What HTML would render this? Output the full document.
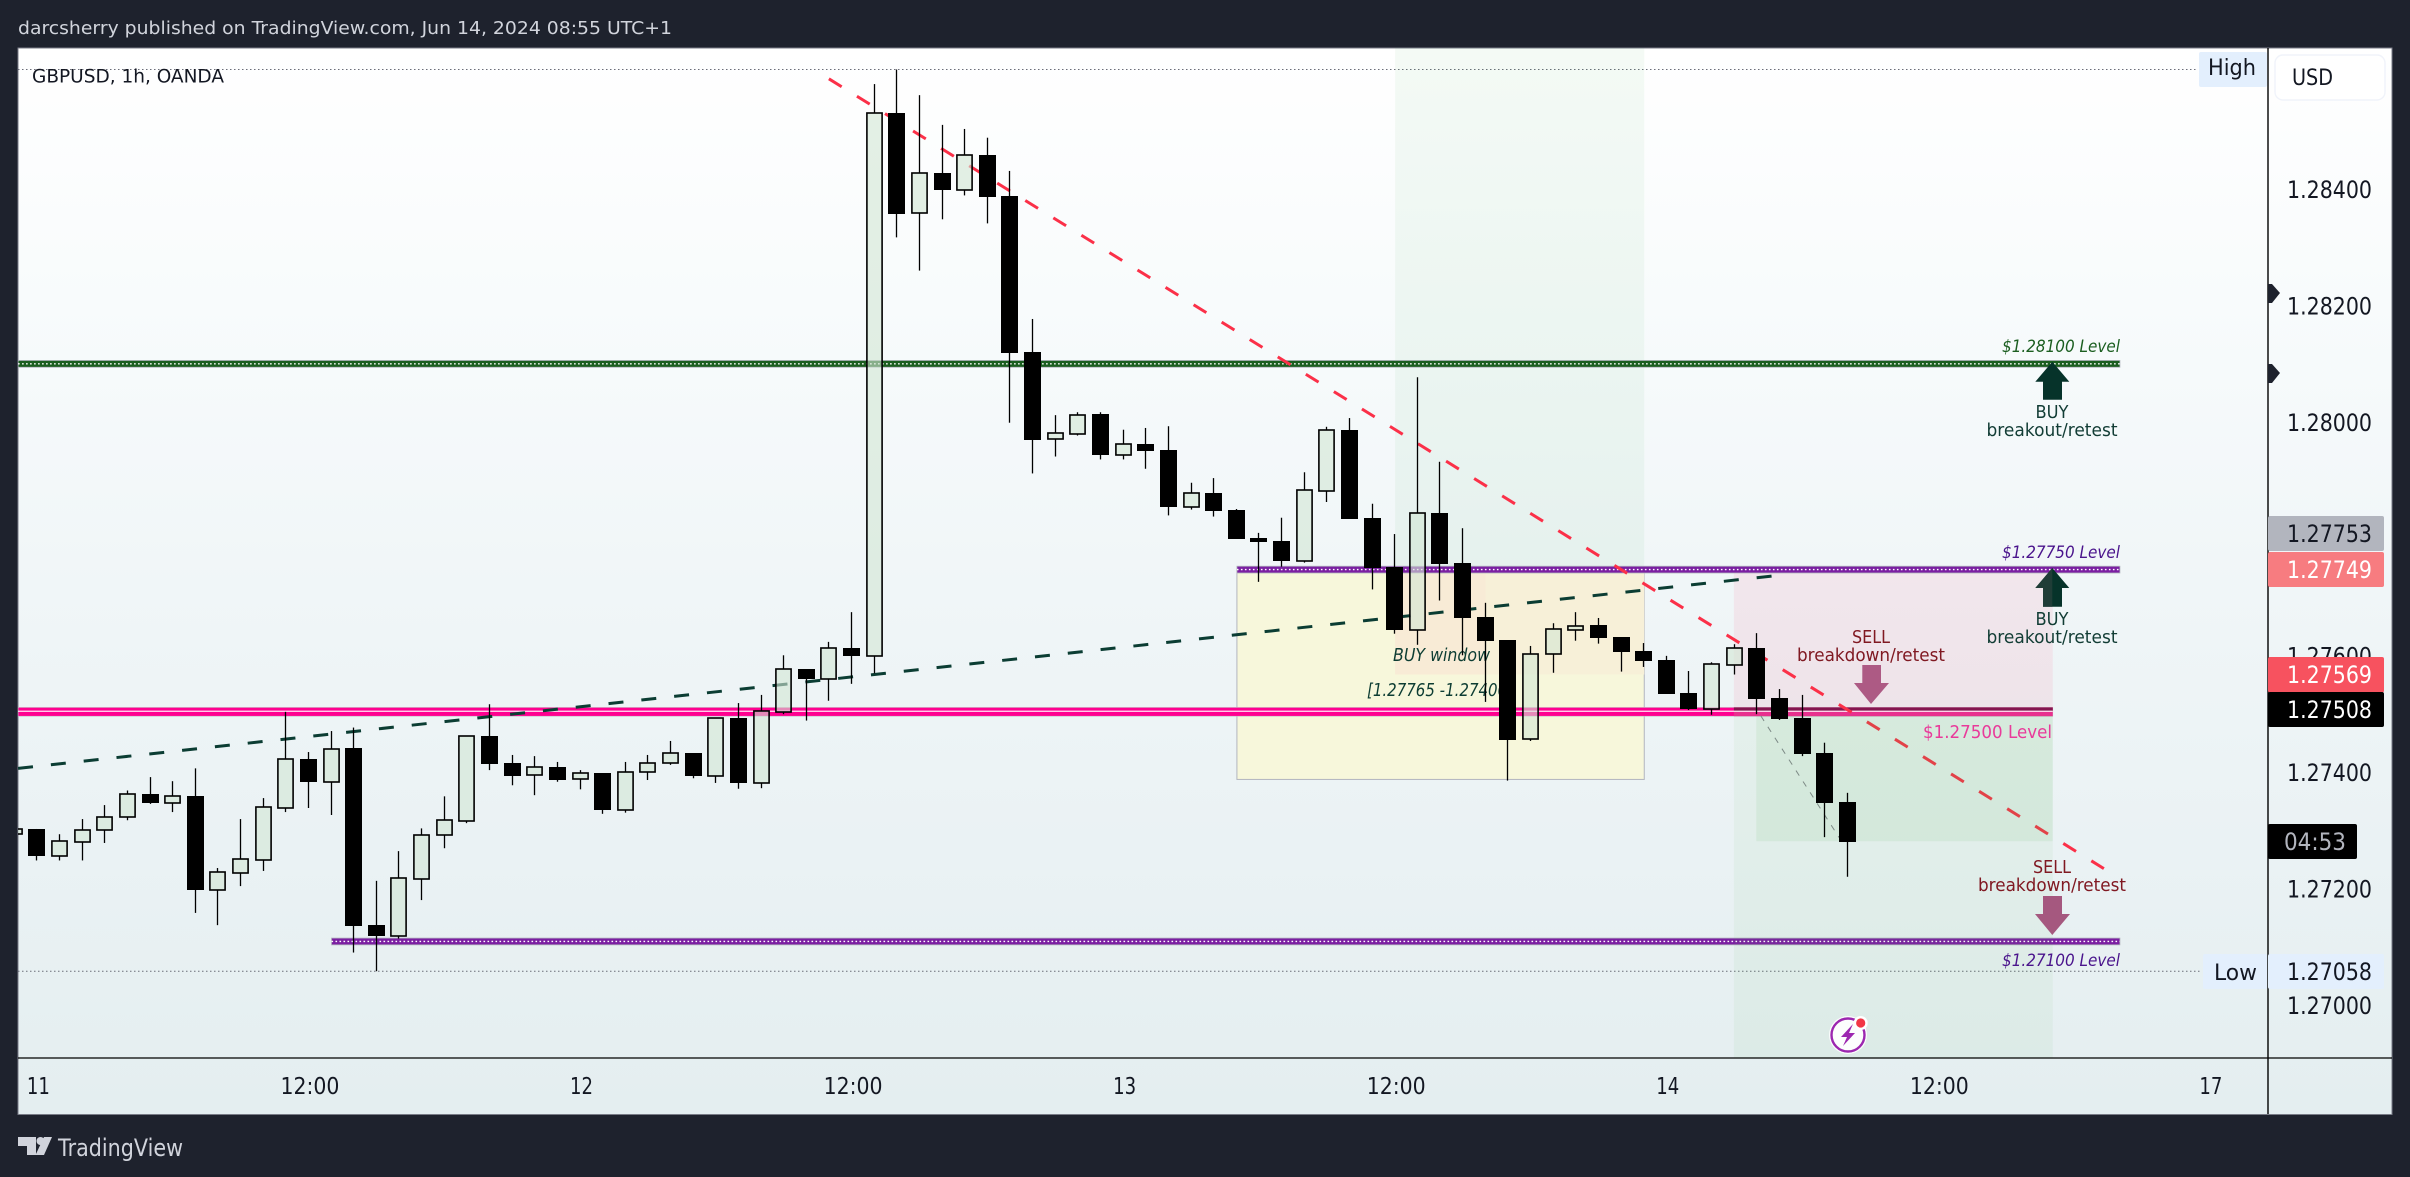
<!DOCTYPE html>
<html lang="en">
<head>
<meta charset="utf-8">
<title>GBPUSD 1h chart</title>
<style>
html,body{margin:0;padding:0;background:#1e222d;}
svg{display:block;}
text{font-family:"DejaVu Sans","Liberation Sans",sans-serif;}
</style>
</head>
<body>
<svg id="chart" xmlns="http://www.w3.org/2000/svg" width="2410" height="1177" viewBox="0 0 2410 1177">
<defs>
<linearGradient id="panelGrad" x1="0" y1="0" x2="0" y2="1">
<stop offset="0" stop-color="#ffffff"/>
<stop offset="0.3" stop-color="#f6fafb"/>
<stop offset="0.55" stop-color="#eff5f7"/>
<stop offset="1" stop-color="#e4eef0"/>
</linearGradient>
<clipPath id="plotClip"><rect x="18" y="48" width="2250" height="1010"/></clipPath>
</defs>
<rect x="0" y="0" width="2410" height="1177" fill="#1e222d"/>
<text x="18" y="34" font-size="18" fill="#d1d4dc" textLength="654" lengthAdjust="spacingAndGlyphs">darcsherry published on TradingView.com, Jun 14, 2024 08:55 UTC+1</text>
<rect x="18" y="48" width="2374" height="1066.5" fill="url(#panelGrad)" stroke="#787b86" stroke-width="1"/>
<g id="plot" clip-path="url(#plotClip)"></g>
<g id="overlay">
<text x="2002" y="352" font-size="16.5" font-style="italic" fill="#1b5e20" textLength="118" lengthAdjust="spacingAndGlyphs">$1.28100 Level</text>
<text x="2002" y="558" font-size="16.5" font-style="italic" fill="#4a148c" textLength="118" lengthAdjust="spacingAndGlyphs">$1.27750 Level</text>
<text x="2002" y="966" font-size="16.5" font-style="italic" fill="#4a148c" textLength="118" lengthAdjust="spacingAndGlyphs">$1.27100 Level</text>
<text x="1923" y="738" font-size="18" fill="#e93a9a" textLength="129" lengthAdjust="spacingAndGlyphs">$1.27500 Level</text>
<polygon points="2052.3,361.7 2069.3,381.7 2062,381.7 2062,399.7 2043,399.7 2043,381.7 2035.3,381.7" fill="#06332a"/>
<text x="2052" y="418" font-size="18" fill="#123d35" text-anchor="middle" textLength="33" lengthAdjust="spacingAndGlyphs">BUY</text>
<text x="2052" y="436" font-size="18" fill="#123d35" text-anchor="middle" textLength="131" lengthAdjust="spacingAndGlyphs">breakout/retest</text>
<polygon points="2052.3,568 2069.3,588 2062,588 2062,606.7 2043,606.7 2043,588 2035.3,588" fill="#06332a"/>
<polygon points="2052.3,568 2052.3,606.7 2043,606.7 2043,588 2035.3,588" fill="#1f3d37"/>
<text x="2052" y="625" font-size="18" fill="#123d35" text-anchor="middle" textLength="33" lengthAdjust="spacingAndGlyphs">BUY</text>
<text x="2052" y="643" font-size="18" fill="#123d35" text-anchor="middle" textLength="131" lengthAdjust="spacingAndGlyphs">breakout/retest</text>
<text x="1871" y="643" font-size="18" fill="#801922" text-anchor="middle" textLength="38" lengthAdjust="spacingAndGlyphs">SELL</text>
<text x="1871" y="661" font-size="18" fill="#801922" text-anchor="middle" textLength="148" lengthAdjust="spacingAndGlyphs">breakdown/retest</text>
<polygon points="1862.3,665 1881,665 1881,683 1889,683 1871,704 1854,683 1862.3,683" fill="#ad5a84"/>
<text x="2052" y="873" font-size="18" fill="#801922" text-anchor="middle" textLength="38" lengthAdjust="spacingAndGlyphs">SELL</text>
<text x="2052" y="891" font-size="18" fill="#801922" text-anchor="middle" textLength="148" lengthAdjust="spacingAndGlyphs">breakdown/retest</text>
<polygon points="2043,896 2062,896 2062,914 2070,914 2052.3,935 2035,914 2043,914" fill="#a5587f"/>
<g>
<circle cx="1848" cy="1035" r="19" fill="#ffffff" opacity="0.9"/>
<circle cx="1848" cy="1035" r="16.5" fill="none" stroke="#9c27b0" stroke-width="2.4"/>
<polygon points="1853,1024 1841,1037 1847,1037 1843,1046 1855,1033 1849,1033" fill="#9c27b0"/>
<circle cx="1860.7" cy="1023" r="7" fill="#ffffff"/>
<circle cx="1860.7" cy="1023" r="4.6" fill="#f23645"/>
</g>
</g>
<g id="axes">
<line x1="18" y1="1058" x2="2392" y2="1058" stroke="#000" stroke-width="1.2"/>
<line x1="2268" y1="48" x2="2268" y2="1114" stroke="#000" stroke-width="1.4"/>
</g>
<g id="tags">
<polygon points="2268,284 2272,284 2280,293 2272,303 2268,303" fill="#1e222d"/>
<polygon points="2268,364 2272,364 2280,373 2272,383 2268,383" fill="#1e222d"/>
<rect x="2199" y="52" width="68" height="35" rx="2" fill="#e3effd"/>
<text x="2208" y="75" font-size="22" fill="#131722" textLength="48" lengthAdjust="spacingAndGlyphs">High</text>
<rect x="2203" y="954" width="64" height="35" rx="2" fill="#e3effd"/>
<text x="2214" y="980" font-size="22" fill="#131722" textLength="43" lengthAdjust="spacingAndGlyphs">Low</text>
<rect x="2275" y="55" width="110" height="45" rx="8" fill="#ffffff" stroke="#f0f3fa" stroke-width="1.4"/>
<text x="2292" y="85" font-size="22" fill="#131722" textLength="41" lengthAdjust="spacingAndGlyphs">USD</text>
<rect x="2268" y="516" width="116" height="35" rx="2" fill="#b2b5be"/>
<text x="2287" y="542" font-size="24" fill="#131722" textLength="85" lengthAdjust="spacingAndGlyphs">1.27753</text>
<rect x="2268" y="552" width="116" height="35" rx="2" fill="#f77c80"/>
<text x="2287" y="578" font-size="24" fill="#ffffff" textLength="85" lengthAdjust="spacingAndGlyphs">1.27749</text>
<rect x="2268" y="657" width="116" height="35.5" rx="2" fill="#f7525f"/>
<text x="2287" y="683" font-size="24" fill="#ffffff" textLength="85" lengthAdjust="spacingAndGlyphs">1.27569</text>
<rect x="2268" y="692" width="116" height="35" rx="2" fill="#000000"/>
<text x="2287" y="718" font-size="24" fill="#ffffff" textLength="85" lengthAdjust="spacingAndGlyphs">1.27508</text>
<rect x="2268" y="824" width="89" height="35" rx="2" fill="#000000"/>
<text x="2284" y="850" font-size="24" fill="#b2b5be" textLength="62" lengthAdjust="spacingAndGlyphs">04:53</text>
<rect x="2268" y="954" width="116" height="35" rx="2" fill="#e3effd"/>
<text x="2287" y="980" font-size="24" fill="#131722" textLength="85" lengthAdjust="spacingAndGlyphs">1.27058</text>
</g>
<text x="32" y="82.7" font-size="19" fill="#131722" textLength="192" lengthAdjust="spacingAndGlyphs">GBPUSD, 1h, OANDA</text>
<g>
<polygon points="18,1137 36,1137 36,1155 27,1155 27,1146 18,1146" fill="#d1d4dc"/>
<circle cx="40.5" cy="1141" r="4" fill="#d1d4dc"/>
<polygon points="44,1137 52,1137 44,1155 35.5,1155" fill="#d1d4dc"/>
<text x="58" y="1156" font-size="24" fill="#d1d4dc" textLength="125" lengthAdjust="spacingAndGlyphs">TradingView</text>
</g>
</svg>
<script>
const opens = [1.27294,1.27302,1.27256,1.27280,1.27301,1.27322,1.27362,1.27347,1.27358,1.27198,1.27227,1.27249,1.27338,1.27422,1.27383,1.27441,1.27137,1.27119,1.27217,1.27291,1.27316,1.27461,1.27415,1.27394,1.27408,1.27387,1.27398,1.27335,1.27399,1.27416,1.27432,1.27393,1.27492,1.27381,1.27503,1.27576,1.27560,1.27612,1.27599,1.28530,1.28358,1.28428,1.28399,1.28458,1.28388,1.28120,1.27971,1.27980,1.28014,1.27944,1.27962,1.27952,1.27855,1.27879,1.27849,1.27801,1.27796,1.27762,1.27882,1.27987,1.27836,1.27751,1.27644,1.27844,1.27758,1.27666,1.27626,1.27456,1.27603,1.27644,1.27652,1.27631,1.27607,1.27592,1.27535,1.27508,1.27584,1.27612,1.27527,1.27492,1.27432,1.27348];
const highs = [1.27302,1.27302,1.27293,1.27319,1.27343,1.27368,1.27391,1.27384,1.27406,1.27235,1.27319,1.27355,1.27503,1.27434,1.27470,1.27476,1.27213,1.27264,1.27303,1.27358,1.27461,1.27516,1.27429,1.27427,1.27417,1.27403,1.27398,1.27417,1.27429,1.27453,1.27432,1.27492,1.27518,1.27532,1.27600,1.27576,1.27623,1.27674,1.28580,1.28605,1.28561,1.28510,1.28503,1.28488,1.28431,1.28177,1.28012,1.28017,1.28017,1.27987,1.27990,1.27993,1.27896,1.27904,1.27851,1.27810,1.27836,1.27914,1.27992,1.28007,1.27860,1.27808,1.28077,1.27932,1.27818,1.27690,1.27626,1.27616,1.27655,1.27674,1.27664,1.27631,1.27621,1.27599,1.27573,1.27588,1.27619,1.27638,1.27542,1.27532,1.27450,1.27364];
const lows = [1.27294,1.27248,1.27248,1.27248,1.27278,1.27317,1.27345,1.27331,1.27158,1.27137,1.27204,1.27230,1.27331,1.27338,1.27326,1.27090,1.27058,1.27114,1.27180,1.27269,1.27312,1.27403,1.27377,1.27360,1.27383,1.27370,1.27328,1.27330,1.27386,1.27412,1.27389,1.27381,1.27371,1.27372,1.27499,1.27488,1.27522,1.27551,1.27569,1.28317,1.28260,1.28348,1.28389,1.28341,1.27999,1.27912,1.27941,1.27977,1.27936,1.27936,1.27920,1.27840,1.27850,1.27838,1.27800,1.27726,1.27752,1.27759,1.27863,1.27834,1.27713,1.27637,1.27618,1.27694,1.27600,1.27520,1.27385,1.27453,1.27570,1.27625,1.27620,1.27572,1.27580,1.27534,1.27506,1.27498,1.27567,1.27499,1.27489,1.27427,1.27288,1.27220];
const closes = [1.27302,1.27256,1.27281,1.27301,1.27322,1.27362,1.27346,1.27358,1.27197,1.27228,1.27250,1.27339,1.27422,1.27382,1.27440,1.27136,1.27118,1.27218,1.27291,1.27317,1.27461,1.27413,1.27393,1.27408,1.27386,1.27398,1.27335,1.27399,1.27416,1.27432,1.27393,1.27492,1.27381,1.27504,1.27576,1.27559,1.27612,1.27599,1.28530,1.28357,1.28427,1.28398,1.28458,1.28386,1.28119,1.27969,1.27981,1.28013,1.27944,1.27962,1.27950,1.27854,1.27878,1.27848,1.27800,1.27794,1.27762,1.27883,1.27986,1.27834,1.27750,1.27643,1.27844,1.27757,1.27664,1.27625,1.27455,1.27603,1.27645,1.27651,1.27630,1.27606,1.27590,1.27534,1.27508,1.27585,1.27612,1.27525,1.27491,1.27431,1.27347,1.27280];
const priceTicks = [1.284, 1.282, 1.28, 1.278, 1.276, 1.274, 1.272, 1.27];
const timeLabels = ['11', '12:00', '12', '12:00', '13', '12:00', '14', '12:00', '17'];
const timeBars = [0, 12, 24, 36, 48, 60, 72, 84, 96];
const highPrice = 1.28605;
const lowPrice = 1.27058;
const resistanceLevel = 1.281;
const midLevel = 1.27747;
const pinkLevel = 1.27503;
const supportLevel = 1.27109;

const NS = 'http://www.w3.org/2000/svg';
const BAR0 = 36.4, BAR_STEP = 22.63;
const Y0 = 1005, Y_SCALE = 58286, P0 = 1.27;
function xAt(bar) { return BAR0 + BAR_STEP * bar; }
function yAt(price) { return Y0 - (price - P0) * Y_SCALE; }
function mk(tag, attrs, parent) {
  const e = document.createElementNS(NS, tag);
  for (const k in attrs) e.setAttribute(k, attrs[k]);
  parent.appendChild(e);
  return e;
}
function zone(bar1, bar2, p1, p2, fill, parent) {
  return mk('rect', { x: xAt(bar1), y: yAt(p1), width: xAt(bar2) - xAt(bar1), height: yAt(p2) - yAt(p1), fill: fill }, parent);
}
const plot = document.getElementById('plot');
let el;

el = mk('line', { x1: 18, x2: 2197, y1: yAt(highPrice), y2: yAt(highPrice), stroke: '#6a6d78', 'stroke-width': 1, 'stroke-dasharray': '1.5 2.5' }, plot);


el = mk('line', { x1: 18, x2: 2202, y1: yAt(lowPrice), y2: yAt(lowPrice), stroke: '#6a6d78', 'stroke-width': 1, 'stroke-dasharray': '1.5 2.5' }, plot);



el = zone(60.04, 71.05, 1.28642, 1.27567, 'rgba(76,175,80,0.06)', plot);


el = zone(53.05, 71.05, midLevel, 1.27387, '#f7f7db', plot);
el.setAttribute('stroke', '#b2b5be');
el.setAttribute('stroke-width', '1');


el = zone(60.04, 71.05, midLevel, 1.27567, '#f7f0d8', plot);


el = zone(60.04, 64.04, midLevel, 1.27567, '#f8ebd6', plot);


el = zone(75.01, 89.1, midLevel, pinkLevel, 'rgba(255,50,100,0.08)', plot);



function level(bar1, bar2, price, fill, name) {
  const g = mk('g', {}, plot);
  
  
  mk('rect', { x: xAt(bar1), y: yAt(price) - 3.4, width: xAt(bar2) - xAt(bar1), height: 6.8, fill: fill, stroke: '#b2b5be', 'stroke-width': 0.8 }, g);
  mk('line', { x1: xAt(bar1), x2: xAt(bar2), y1: yAt(price), y2: yAt(price), stroke: '#ffffff', 'stroke-width': 1.4, 'stroke-dasharray': '1.6 2.4' }, g);
}
level(-0.81, 92.07, resistanceLevel, '#1b5e20', 'level-128100');
level(53.05, 92.07, midLevel, '#7b1fa2', 'level-127750');
level(13.04, 92.07, supportLevel, '#7b1fa2', 'level-127100');

const pinkG = mk('g', {}, plot);


mk('rect', { x: xAt(-0.81), y: yAt(pinkLevel) - 4.4, width: xAt(89.1) - xAt(-0.81), height: 8.8, fill: '#ff0090', stroke: '#c8b8c4', 'stroke-width': 0.6 }, pinkG);
mk('rect', { x: xAt(75.01), y: yAt(pinkLevel) - 4.4, width: xAt(89.1) - xAt(75.01), height: 8.8, fill: '#e8308e' }, pinkG);
mk('rect', { x: xAt(75.01), y: yAt(pinkLevel) - 4.4, width: xAt(89.1) - xAt(75.01), height: 3.6, fill: '#85154f' }, pinkG);
mk('line', { x1: xAt(-0.81), x2: xAt(89.1), y1: yAt(pinkLevel) - 0.6, y2: yAt(pinkLevel) - 0.6, stroke: '#ffffff', 'stroke-width': 1.2, 'stroke-opacity': 0.9 }, pinkG);

el = mk('line', { x1: xAt(35.02), y1: yAt(1.28589), x2: xAt(91.36), y2: yAt(1.27234), stroke: '#fb3048', 'stroke-width': 3, 'stroke-dasharray': '15 18' }, plot);


el = mk('line', { x1: xAt(-0.81), y1: yAt(1.27406), x2: xAt(76.7), y2: yAt(1.27736), stroke: '#0b3d33', 'stroke-width': 3, 'stroke-dasharray': '15 18' }, plot);



el = zone(75.01, 89.1, 1.27496, 1.26909, 'rgba(76,175,80,0.055)', plot);


el = zone(76, 89.1, 1.27496, 1.27281, 'rgba(76,175,80,0.09)', plot);


el = mk('line', { x1: xAt(76.2), y1: yAt(1.27496), x2: xAt(79.7), y2: yAt(1.27285), stroke: '#7d8a86', 'stroke-width': 1, 'stroke-dasharray': '6 7' }, plot);



el = mk('text', { x: 1393, y: 661, 'font-size': 18, 'font-style': 'italic', fill: '#0d3d33', textLength: 97, lengthAdjust: 'spacingAndGlyphs' }, plot);
el.textContent = 'BUY window';


el = mk('text', { x: 1367, y: 696, 'font-size': 18, 'font-style': 'italic', fill: '#0d3d33', textLength: 146, lengthAdjust: 'spacingAndGlyphs' }, plot);
el.textContent = '[1.27765 -1.27400]';



const candleLayer = mk('g', {}, plot);


for (let n = 0; n < opens.length; n++) {
  const bar = n - 1;
  const cx = Math.round(xAt(bar)) + 0.5;
  const up = closes[n] >= opens[n];
  const top = Math.round(yAt(Math.max(opens[n], closes[n])));
  const bot = Math.round(yAt(Math.min(opens[n], closes[n])));
  const g = mk('g', {}, candleLayer);
  
  
  mk('line', { x1: cx, x2: cx, y1: yAt(highs[n]), y2: top, stroke: '#000', 'stroke-width': 1.3 }, g);
  mk('line', { x1: cx, x2: cx, y1: bot, y2: yAt(lows[n]), stroke: '#000', 'stroke-width': 1.3 }, g);
  if (up) {
    mk('rect', { x: cx - 7.6, y: top, width: 15.2, height: Math.max(bot - top, 1), fill: 'rgba(210,230,212,0.6)', stroke: '#000', 'stroke-width': 1.6 }, g);
  } else {
    mk('rect', { x: cx - 8.5, y: top, width: 17, height: Math.max(bot - top, 2), fill: '#000' }, g);
  }
}

const axes = document.getElementById('axes');
priceTicks.forEach(function (p) {
  const t = mk('text', { x: 2287, y: yAt(p) + 9, 'font-size': 24, fill: '#131722', textLength: 85, lengthAdjust: 'spacingAndGlyphs' }, axes);
  t.textContent = p.toFixed(5);
  
  
});
timeLabels.forEach(function (label, k) {
  const t = mk('text', { x: xAt(timeBars[k]) + 2, y: 1094, 'font-size': 23.5, fill: '#131722', 'text-anchor': 'middle', textLength: label.length > 2 ? 59 : 23, lengthAdjust: 'spacingAndGlyphs' }, axes);
  t.textContent = label;
  
  
});
</script>
</body>
</html>
